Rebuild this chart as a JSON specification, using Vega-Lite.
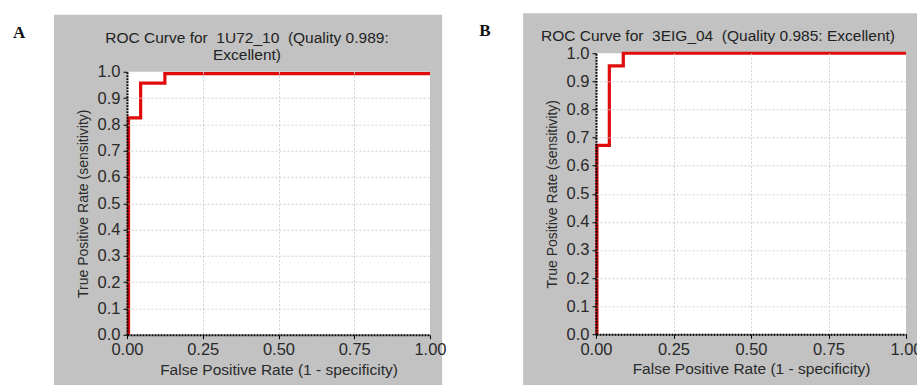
{
  "$schema": "https://vega.github.io/schema/vega-lite/v6.json",
  "background": "white",
  "padding": {"left": 12, "top": 12, "right": 0, "bottom": 0},
  "spacing": 31,
  "bounds": "full",
  "center": true,
  "datasets": {
    "rocA": [
      {"i": 0, "fpr": 0.005, "tpr": 0.0},
      {"i": 1, "fpr": 0.005, "tpr": 0.825},
      {"i": 2, "fpr": 0.045, "tpr": 0.825},
      {"i": 3, "fpr": 0.045, "tpr": 0.957},
      {"i": 4, "fpr": 0.125, "tpr": 0.957},
      {"i": 5, "fpr": 0.125, "tpr": 0.993},
      {"i": 6, "fpr": 1.0, "tpr": 0.993}
    ],
    "rocB": [
      {"i": 0, "fpr": 0.003, "tpr": 0.0},
      {"i": 1, "fpr": 0.003, "tpr": 0.672},
      {"i": 2, "fpr": 0.043, "tpr": 0.672},
      {"i": 3, "fpr": 0.043, "tpr": 0.955},
      {"i": 4, "fpr": 0.088, "tpr": 0.955},
      {"i": 5, "fpr": 0.088, "tpr": 1.0},
      {"i": 6, "fpr": 1.0, "tpr": 1.0}
    ],
    "one": [{"k": 1}]
  },
  "hconcat": [
    {
      "width": 303,
      "height": 263,
      "layer": [
        {
          "data": {"name": "one"},
          "mark": {"type": "rect", "color": "#c2c2c2", "clip": false},
          "encoding": {
            "x": {"datum": -0.241, "type": "quantitative", "scale": {"domain": [0, 1], "nice": false},
                  "axis": {"zindex": 1, "values": [0, 0.25, 0.5, 0.75, 1], "format": ".2f", "title": "False Positive Rate (1 - specificity)"}},
            "x2": {"datum": 1.04},
            "y": {"datum": 1.217, "type": "quantitative", "scale": {"domain": [0, 1], "nice": false},
                  "axis": {"zindex": 1, "tickCount": 11, "values": [0, 0.1, 0.2, 0.3, 0.4, 0.5, 0.6, 0.7, 0.8, 0.9, 1], "format": ".1f", "title": "True Positive Rate (sensitivity)"}},
            "y2": {"datum": -0.2205}
          }
        },
        {
          "data": {"name": "one"},
          "mark": {"type": "rect", "color": "white"},
          "encoding": {
            "x": {"datum": 0, "type": "quantitative"},
            "x2": {"datum": 1},
            "y": {"datum": 0, "type": "quantitative"},
            "y2": {"datum": 1}
          }
        },
        {
          "data": {"name": "rocA"},
          "mark": {"type": "line", "color": "#e00c0c", "strokeWidth": 3.2, "clip": false},
          "encoding": {
            "x": {"field": "fpr", "type": "quantitative", "scale": {"domain": [0, 1], "nice": false},
                  "axis": {"zindex": 1, "values": [0, 0.25, 0.5, 0.75, 1], "format": ".2f", "title": "False Positive Rate (1 - specificity)"}},
            "y": {"field": "tpr", "type": "quantitative", "scale": {"domain": [0, 1], "nice": false},
                  "axis": {"zindex": 1, "tickCount": 11, "values": [0, 0.1, 0.2, 0.3, 0.4, 0.5, 0.6, 0.7, 0.8, 0.9, 1], "format": ".1f", "title": "True Positive Rate (sensitivity)"}},
            "order": {"field": "i"}
          }
        },
        {
          "data": {"name": "one"},
          "mark": {"type": "text", "text": ["ROC Curve for\u00a0 1U72_10\u00a0 (Quality 0.989:", "Excellent)"], "font": "Liberation Sans", "fontSize": 15.5, "lineHeight": 17, "align": "center", "baseline": "alphabetic", "color": "#222"},
          "encoding": {
            "x": {"datum": 0.396, "type": "quantitative"},
            "y": {"datum": 1.110, "type": "quantitative"}
          }
        },
        {
          "data": {"name": "one"},
          "mark": {"type": "text", "text": "A", "font": "Liberation Serif", "fontWeight": "bold", "fontSize": 17, "align": "left", "baseline": "alphabetic", "color": "#111"},
          "encoding": {
            "x": {"datum": -0.376, "type": "quantitative"},
            "y": {"datum": 1.129, "type": "quantitative"}
          }
        }
      ]
    },
    {
      "width": 310,
      "height": 281,
      "layer": [
        {
          "data": {"name": "one"},
          "mark": {"type": "rect", "color": "#c2c2c2", "clip": false},
          "encoding": {
            "x": {"datum": -0.235, "type": "quantitative", "scale": {"domain": [0, 1], "nice": false},
                  "axis": {"zindex": 1, "values": [0, 0.25, 0.5, 0.75, 1], "format": ".2f", "title": "False Positive Rate (1 - specificity)"}},
            "x2": {"datum": 1.04},
            "y": {"datum": 1.142, "type": "quantitative", "scale": {"domain": [0, 1], "nice": false},
                  "axis": {"zindex": 1, "tickCount": 11, "values": [0, 0.1, 0.2, 0.3, 0.4, 0.5, 0.6, 0.7, 0.8, 0.9, 1], "format": ".1f", "title": "True Positive Rate (sensitivity)"}},
            "y2": {"datum": -0.274}
          }
        },
        {
          "data": {"name": "one"},
          "mark": {"type": "rect", "color": "white"},
          "encoding": {
            "x": {"datum": 0, "type": "quantitative"},
            "x2": {"datum": 1},
            "y": {"datum": 0, "type": "quantitative"},
            "y2": {"datum": 1}
          }
        },
        {
          "data": {"name": "rocB"},
          "mark": {"type": "line", "color": "#e00c0c", "strokeWidth": 3.2, "clip": false},
          "encoding": {
            "x": {"field": "fpr", "type": "quantitative", "scale": {"domain": [0, 1], "nice": false},
                  "axis": {"zindex": 1, "values": [0, 0.25, 0.5, 0.75, 1], "format": ".2f", "title": "False Positive Rate (1 - specificity)"}},
            "y": {"field": "tpr", "type": "quantitative", "scale": {"domain": [0, 1], "nice": false},
                  "axis": {"zindex": 1, "tickCount": 11, "values": [0, 0.1, 0.2, 0.3, 0.4, 0.5, 0.6, 0.7, 0.8, 0.9, 1], "format": ".1f", "title": "True Positive Rate (sensitivity)"}},
            "order": {"field": "i"}
          }
        },
        {
          "data": {"name": "one"},
          "mark": {"type": "text", "text": "ROC Curve for\u00a0 3EIG_04\u00a0 (Quality 0.985: Excellent)", "font": "Liberation Sans", "fontSize": 15.5, "align": "center", "baseline": "alphabetic", "color": "#222"},
          "encoding": {
            "x": {"datum": 0.3935, "type": "quantitative"},
            "y": {"datum": 1.0427, "type": "quantitative"}
          }
        },
        {
          "data": {"name": "one"},
          "mark": {"type": "text", "text": "B", "font": "Liberation Serif", "fontWeight": "bold", "fontSize": 17, "align": "left", "baseline": "alphabetic", "color": "#111"},
          "encoding": {
            "x": {"datum": -0.377, "type": "quantitative"},
            "y": {"datum": 1.06, "type": "quantitative"}
          }
        }
      ]
    }
  ],
  "config": {
    "view": {"stroke": "#808080", "strokeWidth": 1, "fill": "white"},
    "axis": {
      "labelFont": "Liberation Sans",
      "labelFontSize": 16.5,
      "labelColor": "#2a2a2a",
      "titleFont": "Liberation Sans",
      "titleFontSize": 15,
      "titleFontWeight": "normal",
      "titleColor": "#2a2a2a",
      "domainColor": "#000",
      "domainWidth": 2,
      "domainDash": [2, 1],
      "tickColor": "#000",
      "tickSize": 4,
      "tickWidth": 1,
      "labelPadding": 3,
      "grid": true,
      "gridColor": "#cfcfcf",
      "gridDash": [2, 2],
      "gridWidth": 1,
      "gridOpacity": {"condition": {"test": "datum.value == 0 || datum.value == 1", "value": 0}, "value": 1},
      "labelFlush": false,
      "labelOverlap": false
    },
    "axisX": {"titlePadding": 4, "titleFontSize": 15.5},
    "axisY": {"titlePadding": 7, "titleFontSize": 14}
  }
}
